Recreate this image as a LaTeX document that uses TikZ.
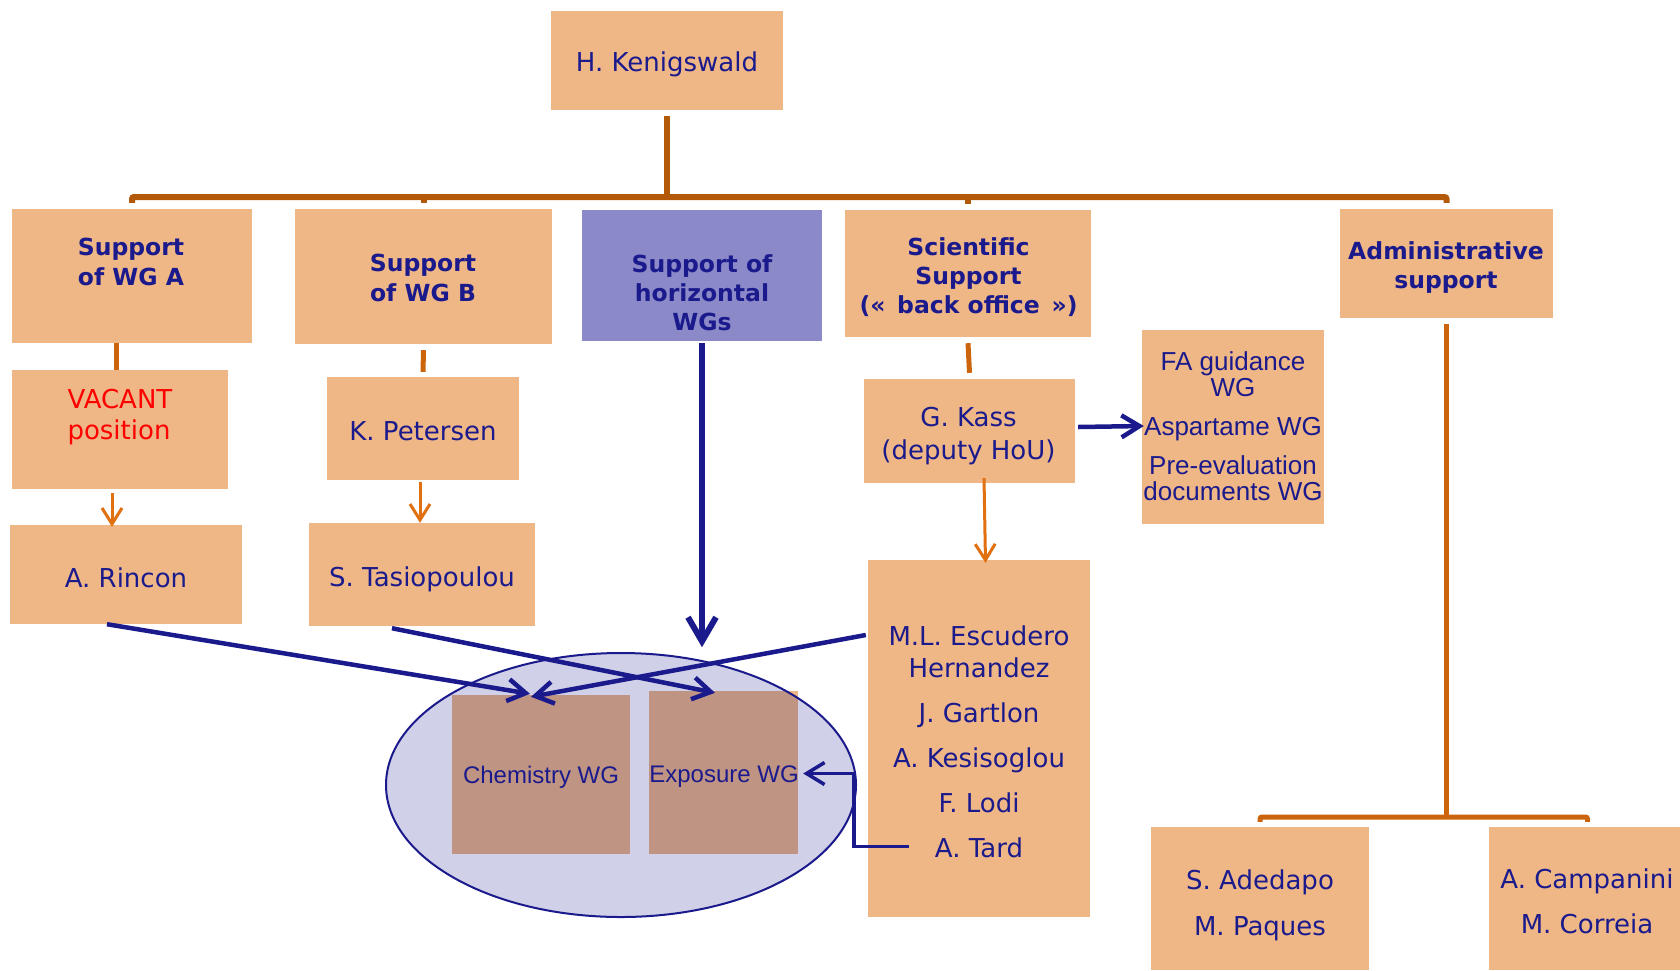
\documentclass[tikz,border=0pt]{standalone}
\usepackage{fontspec}
\setmainfont{DejaVu Sans}
\newfontfamily\arialf{Liberation Sans}
\usetikzlibrary{arrows.meta}
\definecolor{boxor}{RGB}{239,183,134}
\definecolor{boxpu}{RGB}{139,137,200}
\definecolor{navy}{RGB}{26,26,140}
\definecolor{barbrown}{RGB}{179,90,10}
\definecolor{lineor}{RGB}{224,112,16}
\definecolor{linebr}{RGB}{204,100,12}
\definecolor{ellfill}{RGB}{208,208,232}
\definecolor{wgbox}{RGB}{192,148,130}
\begin{document}
\begin{tikzpicture}[x=1pt,y=-1pt,
  obox/.style={rectangle,fill=boxor,draw=none,inner sep=0pt},
  pbox/.style={rectangle,fill=boxpu,draw=none,inner sep=0pt},
  nm/.style={anchor=base,inner sep=0pt,text=navy,font=\fontsize{26}{30}\selectfont},
  hd/.style={anchor=base,inner sep=0pt,text=navy,font=\fontsize{23.5}{28}\selectfont\bfseries},
  ar/.style={anchor=base,inner sep=0pt,text=navy,font=\arialf\fontsize{26}{30}\selectfont},
  arsm/.style={anchor=base,inner sep=0pt,text=navy,font=\arialf\fontsize{24}{28}\selectfont},
  brbar/.style={draw=barbrown,line width=6pt,rounded corners=2pt},
  orthick/.style={draw=linebr,line width=5pt},
  orarrow/.style={draw=lineor,line width=3pt,-{Straight Barb[length=16pt,width=20pt,line width=3pt]}},
  adline/.style={draw=linebr,line width=5pt,rounded corners=2pt},
  blarrow/.style={draw=navy,line width=4.5pt,-{Straight Barb[length=18pt,width=22pt,line width=4.5pt]}},
  bigarrow/.style={draw=navy,line width=6pt,-{Straight Barb[length=24pt,width=28pt,line width=6pt]}},
  thinarrow/.style={draw=navy,line width=3.5pt,-{Straight Barb[length=18pt,width=22pt,line width=3.5pt]}}
]
\useasboundingbox (0,0) rectangle (1680,970);
\fill[white] (0,0) rectangle (1680,970);

% boxes
\node[obox,minimum width=232pt,minimum height=99pt] (keni) at (667,60.5) {};
\node[obox,minimum width=240pt,minimum height=134pt] (supA) at (132,276) {};
\node[obox,minimum width=257pt,minimum height=135pt] (supB) at (423.5,276.5) {};
\node[pbox,minimum width=240pt,minimum height=131pt] (horiz) at (702,275.5) {};
\node[obox,minimum width=246pt,minimum height=127pt] (sci) at (968,273.5) {};
\node[obox,minimum width=213pt,minimum height=109pt] (admin) at (1446.5,263.5) {};
\node[obox,minimum width=216pt,minimum height=119pt] (vacant) at (120,429.5) {};
\node[obox,minimum width=192pt,minimum height=103pt] (peter) at (423,428.5) {};
\node[obox,minimum width=232pt,minimum height=99pt] (rincon) at (126,574.5) {};
\node[obox,minimum width=226pt,minimum height=103pt] (tasio) at (422,574.5) {};
\node[obox,minimum width=211pt,minimum height=104pt] (kass) at (969.5,431) {};
\node[obox,minimum width=182pt,minimum height=194pt] (fa) at (1233,427) {};
\node[obox,minimum width=222pt,minimum height=357pt] (team) at (979,738.5) {};
\node[obox,minimum width=218pt,minimum height=143pt] (ade) at (1260,898.5) {};
\node[obox,minimum width=191pt,minimum height=143pt] (camp) at (1584.5,898.5) {};
\node[obox,minimum width=178pt,minimum height=159pt] (chem) at (541,774.5) {};
\node[obox,minimum width=149pt,minimum height=163pt] (expo) at (723.5,772.5) {};

% ellipse grouping the horizontal WGs
\fill[ellfill] (621,785) ellipse [x radius=235pt,y radius=132pt];
\begin{scope}
  \clip (621,785) ellipse [x radius=235pt,y radius=132pt];
  \fill[wgbox] (chem.north west) rectangle (chem.south east);
  \fill[wgbox] (expo.north west) rectangle (expo.south east);
\end{scope}
\draw[navy,line width=2pt] (621,785) ellipse [x radius=235pt,y radius=132pt];

% texts
\node[nm] (keni-t) at (667,71.5) {H. Kenigswald};
\node[hd] (supA-t1) at (131,255.5) {Support};
\node[hd] (supA-t2) at (131,285.5) {of WG A};
\node[hd] (supB-t1) at (423,271.5) {Support};
\node[hd] (supB-t2) at (423,301.5) {of WG B};
\node[hd] (horiz-t1) at (702,272) {Support of};
\node[hd] (horiz-t2) at (702,301) {horizontal};
\node[hd] (horiz-t3) at (702,330) {WGs};
\node[hd] (sci-t1) at (968.5,255) {Scientific};
\node[hd] (sci-t2) at (968.5,284) {Support};
\node[hd] (sci-t3) at (968.5,313) {(«\hspace{0.5em}back office\hspace{0.5em}»)};
\node[hd] (admin-t1) at (1446,259) {Administrative};
\node[hd] (admin-t2) at (1446,288) {support};
\node[nm,text=red] (vacant-t1) at (120,408) {VACANT};
\node[nm,text=red] (vacant-t2) at (119,439) {position};
\node[nm] (peter-t) at (423,440) {K. Petersen};
\node[nm] (rincon-t) at (126,587) {A. Rincon};
\node[nm] (tasio-t) at (422,586) {S. Tasiopoulou};
\node[nm] (kass-t1) at (968.5,426) {G. Kass};
\node[nm] (kass-t2) at (968.5,459) {(deputy HoU)};
\node[ar] (fa-t1) at (1233,370) {FA guidance};
\node[ar] (fa-t2) at (1233,396) {WG};
\node[ar] (fa-t3) at (1233,435) {Aspartame WG};
\node[ar] (fa-t4) at (1233,474) {Pre-evaluation};
\node[ar] (fa-t5) at (1233,500) {documents WG};
\node[nm] (team-t1) at (979,645) {M.L. Escudero};
\node[nm] (team-t2) at (979,677) {Hernandez};
\node[nm] (team-t3) at (979,722) {J. Gartlon};
\node[nm] (team-t4) at (979,767) {A. Kesisoglou};
\node[nm] (team-t5) at (979,812) {F. Lodi};
\node[nm] (team-t6) at (979,857) {A. Tard};
\node[nm] (ade-t1) at (1260,889) {S. Adedapo};
\node[nm] (ade-t2) at (1260,935) {M. Paques};
\node[nm] (camp-t1) at (1587,888) {A. Campanini};
\node[nm] (camp-t2) at (1587,933) {M. Correia};
\node[arsm] (chem-t) at (541,783) {Chemistry WG};
\node[arsm] (expo-t) at (724,782) {Exposure WG};

% top organisation bar
\coordinate (barY) at (0,197);
\coordinate (brY) at (0,817);
\draw[brbar] ([yshift=-6pt]keni.south) -- (keni.south |- barY);
\draw[brbar] ([yshift=6pt]supA.north) -- (supA.north |- barY) -- (admin.north |- barY) -- ([yshift=6pt]admin.north);
\draw[brbar] (supB.north |- barY) -- ([yshift=6pt]supB.north);
\draw[brbar] (sci.north |- barY) -- ([yshift=6pt]sci.north);

% orange links
\draw[orthick] ([xshift=-16pt]supA.south) -- ([xshift=-16pt]supA.south |- vacant.north);
\draw[orthick] ([yshift=-6pt]supB.south) -- ([yshift=5pt]peter.north);
\draw[orarrow] ([xshift=-8pt,yshift=-4pt]vacant.south) -- ([xshift=-8pt,yshift=-2pt]vacant.south |- rincon.north);
\draw[orarrow] ([xshift=-3pt,yshift=-2pt]peter.south) -- ([xshift=-3pt]peter.south |- tasio.north);
\draw[orthick] ([yshift=-6pt]sci.south) -- ([yshift=6pt]kass.north);
\draw[orarrow] ([xshift=14.5pt,yshift=5pt]kass.south) -- ([xshift=6.5pt,yshift=-3pt]team.north);
\draw[adline] ([yshift=-6pt]admin.south) -- (admin.south |- brY);
\draw[adline] ([yshift=5pt]ade.north) -- (ade.north |- brY) -- ([xshift=3pt]camp.north |- brY) -- ([xshift=3pt,yshift=5pt]camp.north);

% blue links
\draw[bigarrow] ([yshift=-2pt]horiz.south) -- ([yshift=-306pt]horiz.south);
\draw[blarrow] ([xshift=3pt,yshift=4pt]kass.east) -- ([xshift=2pt,yshift=1pt]fa.west);
\draw[blarrow] ([xshift=-19pt]rincon.south) -- ([xshift=-11pt,yshift=1pt]chem.north);
\draw[blarrow] ([xshift=-30pt,yshift=-2pt]tasio.south) -- ([xshift=-8.5pt,yshift=-2pt]expo.north);
\draw[blarrow] ([xshift=-2pt,yshift=103.5pt]team.west) -- ([xshift=-10pt,yshift=-2pt]chem.north);
\draw[thinarrow] ([xshift=41pt,yshift=-108pt]team.west) -- ([xshift=-14pt,yshift=-108pt]team.west) |- ([xshift=5pt,yshift=-1pt]expo.east);
\end{tikzpicture}
\end{document}
